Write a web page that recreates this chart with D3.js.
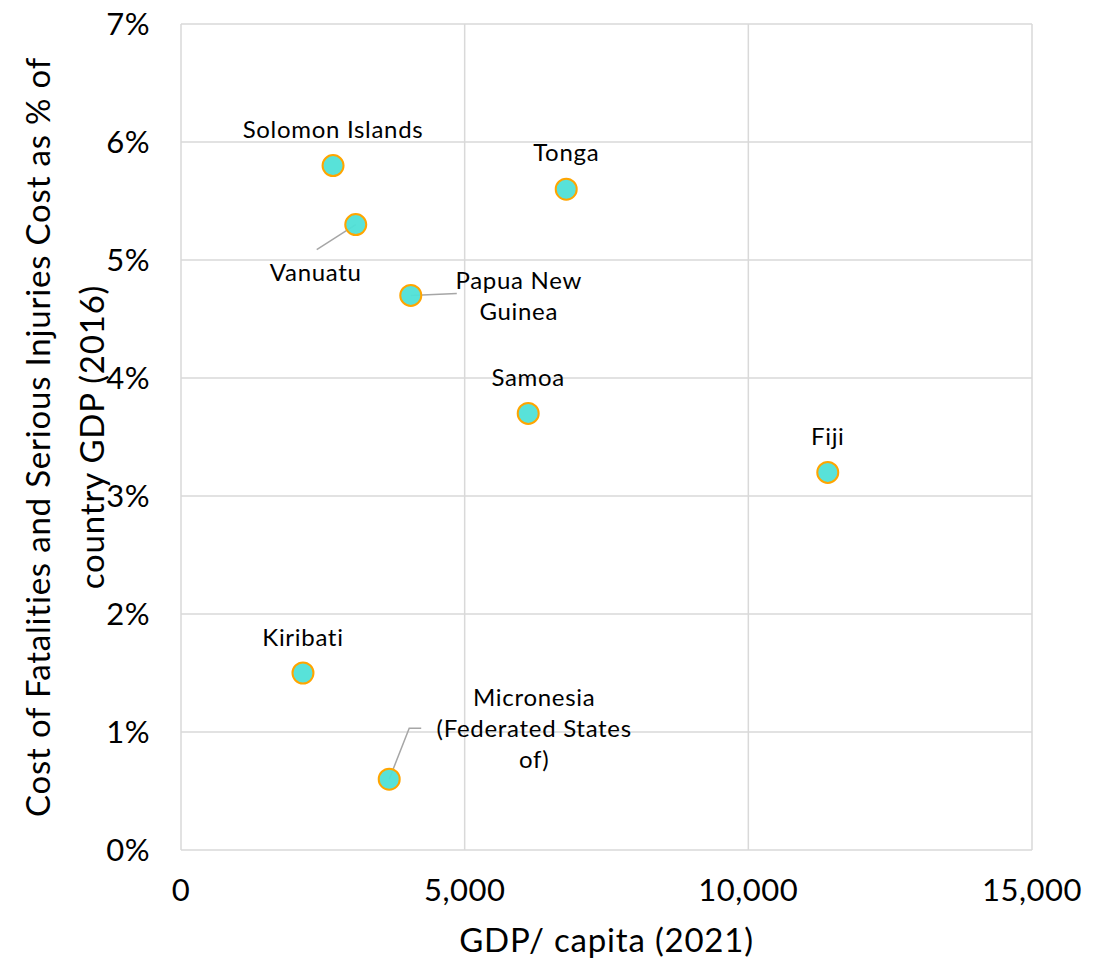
<!DOCTYPE html>
<html>
<head>
<meta charset="utf-8">
<script src="https://cdn.jsdelivr.net/npm/d3@7"></script>
<style>
  body { margin: 0; background: #fff; }
  text { font-family: "Lato", "Open Sans", sans-serif; fill: #000; }
</style>
</head>
<body>
<script>
// values
var countries = ["Solomon Islands", "Tonga", "Vanuatu", "Papua New Guinea", "Samoa", "Fiji", "Kiribati", "Micronesia (Federated States of)"];
var gdpPerCapita = [2680, 6790, 3080, 4050, 6120, 11400, 2150, 3670];
var costShare = [5.8, 5.6, 5.3, 4.7, 3.7, 3.2, 1.5, 0.6];
var labelLines = [["Solomon Islands"], ["Tonga"], ["Vanuatu"], ["Papua New", "Guinea"], ["Samoa"], ["Fiji"], ["Kiribati"], ["Micronesia", "(Federated States", "of)"]];
var xTicks = [0, 5000, 10000, 15000];
var yTicks = [0, 1, 2, 3, 4, 5, 6, 7];

// label placement (px offsets from the marker), leader lines where Excel drew them
var labelOffset = [[0, -36], [0, -37], [-40, 48], [108, -15], [0, -36], [0, -36], [0, -36], [145, -82]];
var leader = [null, null, [[-39, 25]], [[46, -2]], null, null, null, [[20, -51], [32, -51]]];

var width = 1094, height = 960;
var margin = { top: 24, right: 62, bottom: 110, left: 181 };

var svg = d3.select("body").append("svg")
    .attr("width", width)
    .attr("height", height);

var x = d3.scaleLinear().domain([0, 15000]).range([margin.left, width - margin.right]);
var y = d3.scaleLinear().domain([0, 7]).range([height - margin.bottom, margin.top]);

var fmt = d3.format(",");

// gridlines
svg.append("g").selectAll("line.v")
    .data(xTicks)
    .enter().append("line")
    .attr("x1", function (d) { return x(d); })
    .attr("x2", function (d) { return x(d); })
    .attr("y1", y(0)).attr("y2", y(7))
    .style("stroke", "#d9d9d9").style("stroke-width", 1.5);

svg.append("g").selectAll("line.h")
    .data(yTicks)
    .enter().append("line")
    .attr("x1", x(0)).attr("x2", x(15000))
    .attr("y1", function (d) { return y(d); })
    .attr("y2", function (d) { return y(d); })
    .style("stroke", "#d9d9d9").style("stroke-width", 1.5);

// tick labels
svg.append("g").selectAll("text")
    .data(xTicks)
    .enter().append("text")
    .attr("x", function (d) { return x(d); })
    .attr("y", y(0) + 40)
    .attr("dy", "0.36em")
    .attr("text-anchor", "middle")
    .style("font-size", "31px")
    .style("letter-spacing", "0.5px")
    .text(function (d) { return fmt(d); });

svg.append("g").selectAll("text")
    .data(yTicks)
    .enter().append("text")
    .attr("x", x(0) - 31)
    .attr("y", function (d) { return y(d); })
    .attr("dy", "0.36em")
    .attr("text-anchor", "end")
    .style("font-size", "31px")
    .style("letter-spacing", "0.5px")
    .text(function (d) { return d + "%"; });

// axis titles
svg.append("text")
    .attr("x", (x(0) + x(15000)) / 2)
    .attr("y", 940)
    .attr("dy", "0.36em")
    .attr("text-anchor", "middle")
    .style("font-size", "33px")
    .style("letter-spacing", "0.8px")
    .text("GDP/ capita (2021)");

var yTitle = svg.append("text")
    .attr("transform", "translate(38," + y(3.5) + ") rotate(-90)")
    .attr("text-anchor", "middle")
    .style("font-size", "33px")
    .style("letter-spacing", "0.8px");
yTitle.append("tspan").attr("x", 0).attr("y", 0).attr("dy", "0.36em").text("Cost of Fatalities and Serious Injuries Cost as % of");
yTitle.append("tspan").attr("x", 0).attr("y", 54).attr("dy", "0.36em").text("country GDP (2016)");

// leader lines
svg.append("g").selectAll("path")
    .data(d3.range(countries.length).filter(function (i) { return leader[i]; }))
    .enter().append("path")
    .attr("d", function (i) {
        var px = x(gdpPerCapita[i]), py = y(costShare[i]);
        return "M" + px + "," + py + leader[i].map(function (p) { return "L" + (px + p[0]) + "," + (py + p[1]); }).join("");
    })
    .style("fill", "none")
    .style("stroke", "#a6a6a6")
    .style("stroke-width", 1.5);

// markers
svg.append("g").selectAll("circle")
    .data(countries)
    .enter().append("circle")
    .attr("cx", function (d, i) { return x(gdpPerCapita[i]); })
    .attr("cy", function (d, i) { return y(costShare[i]); })
    .attr("r", 10.5)
    .style("fill", "#4fe0d7")
    .style("fill-opacity", 0.95)
    .style("stroke", "#ffa500")
    .style("stroke-width", 2);

// data labels
var labels = svg.append("g").selectAll("text")
    .data(countries)
    .enter().append("text")
    .attr("text-anchor", "middle")
    .style("font-size", "24px")
    .style("letter-spacing", "0.7px")
    .attr("transform", function (d, i) {
        return "translate(" + (x(gdpPerCapita[i]) + labelOffset[i][0]) + "," + (y(costShare[i]) + labelOffset[i][1]) + ")";
    });

labels.each(function (d, i) {
    var t = d3.select(this);
    labelLines[i].forEach(function (line, j) {
        t.append("tspan").attr("x", 0).attr("y", j * 31).attr("dy", "0.36em").text(line);
    });
});
</script>
</body>
</html>
